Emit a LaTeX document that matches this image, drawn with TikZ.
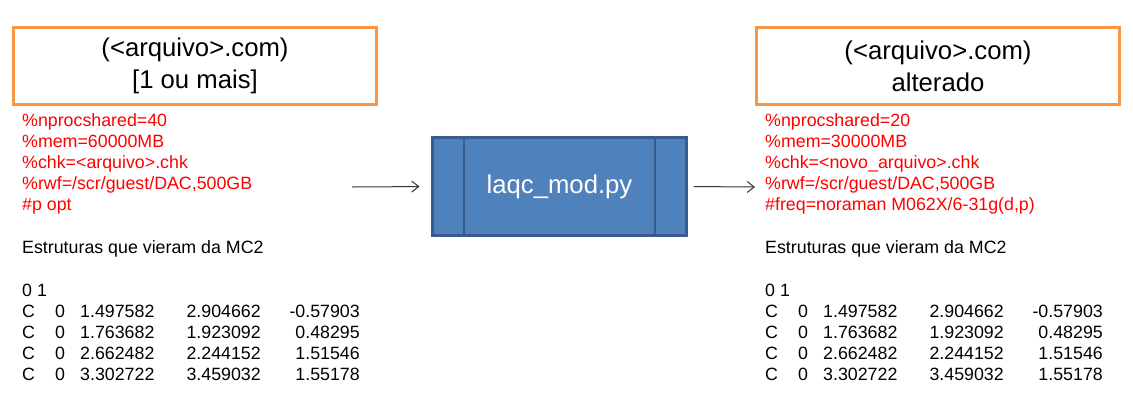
\documentclass[tikz,border=0pt]{standalone}
\usepackage{fontspec}
\setmainfont{Liberation Sans}
\usetikzlibrary{arrows.meta}
\definecolor{boxorange}{HTML}{F79646}
\definecolor{modfill}{HTML}{4F81BD}
\definecolor{modline}{HTML}{385D8A}
\newcommand\bodyfont{\fontsize{17.8}{21}\selectfont}
\newcommand\bigfont{\fontsize{25.7}{32}\selectfont\rule{0pt}{24pt}}

\begin{document}
\begin{tikzpicture}[x=1pt,y=-1pt,
    filebox/.style={draw=boxorange,line width=3pt,minimum width=363pt,
      minimum height=77pt,align=center,font=\bigfont},
    cfg/.style={text=red,align=left,anchor=north west,inner sep=0pt,font=\bodyfont},
    plain/.style={inner sep=0pt,font=\bodyfont},
    arrowline/.style={black!80,line width=1pt,-{Straight Barb[length=7pt,width=11pt]}}]
  \useasboundingbox (0,0) rectangle (1133,410);
  % arquivos de entrada e saida
  \node[filebox] (infile) at (195,66) {(<arquivo>.com)\\ {[1 ou mais]}};
  \node[filebox] (outfile) at (938,66) {(<arquivo>.com)\\ alterado};
  \node[cfg] (incfg) at (22,113) {\%nprocshared=40\\ \%mem=60000MB\\
    \%chk=<arquivo>.chk\\ \%rwf=/scr/guest/DAC,500GB\\ \#p opt};
  \node[cfg] (outcfg) at (765,113) {\%nprocshared=20\\ \%mem=30000MB\\
    \%chk=<novo\_arquivo>.chk\\ \%rwf=/scr/guest/DAC,500GB\\
    \#freq=noraman M062X/6-31g(d,p)};
  \foreach \dx in {0,743} {
    \node[plain,anchor=base west] (est\dx) at (22+\dx,253) {Estruturas que vieram da MC2};
    \node[plain,anchor=base west] (carga\dx) at (22+\dx,296) {0 1};
    \foreach \y/\a/\b/\c [count=\r] in {317/1.497582/2.904662/-0.57903,
        338/1.763682/1.923092/0.48295, 359/2.662482/2.244152/1.51546,
        380/3.302722/3.459032/1.55178} {
      \node[plain,anchor=base west] (el\dx-\r) at (22+\dx,\y) {C};
      \node[plain,anchor=base west] at (55+\dx,\y) {0};
      \node[plain,anchor=base west] at (80+\dx,\y) {\a};
      \node[plain,anchor=base east] at (261+\dx,\y) {\b};
      \node[plain,anchor=base east] at (360+\dx,\y) {\c};
    }
  }
  % script
  \node[draw=modline,fill=modfill,line width=3pt,minimum width=254pt,
    minimum height=98pt,text=white,font=\fontsize{25.7}{32}\selectfont] (mod) at (559.5,186.5) {laqc\_mod.py};
  \draw[modline,line width=2pt] ([xshift=33pt]mod.north west) -- ([xshift=33pt]mod.south west)
    ([xshift=-33pt]mod.north east) -- ([xshift=-33pt]mod.south east);
  \coordinate (instart) at (352,187);
  \coordinate (outtip) at (755,187);
  \draw[arrowline,shorten >=11.5pt] (instart) -- (mod.west);
  \draw[arrowline,shorten <=5.5pt] (mod.east) -- (outtip);
\end{tikzpicture}
\end{document}
